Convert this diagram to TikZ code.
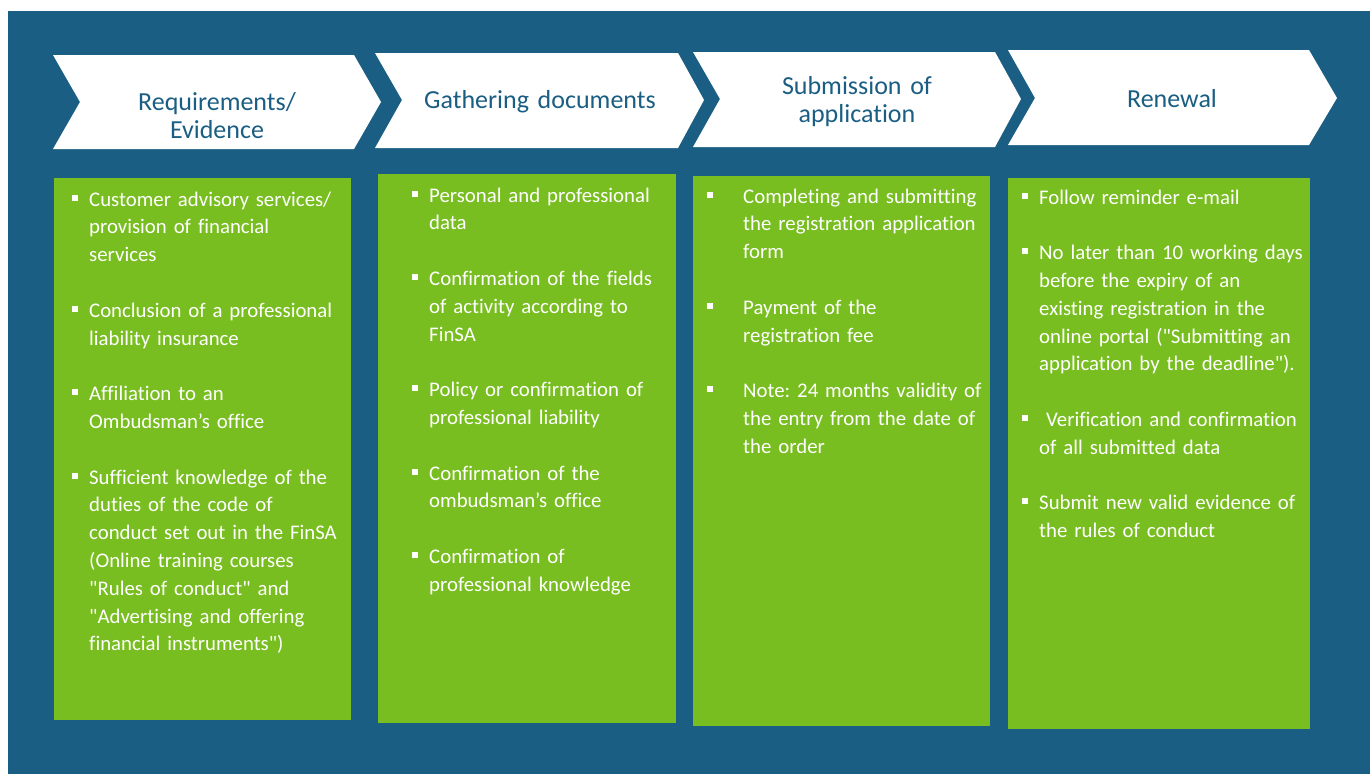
\documentclass[tikz,border=0pt]{standalone}
\usepackage{fontspec}
\setmainfont{Carlito}[Ligatures=NoCommon]
\usepackage{tikz}
\usetikzlibrary{positioning}
\definecolor{finblue}{HTML}{1B5E83}
\definecolor{fingreen}{HTML}{78BE20}

\newlength{\bulhang}
\setlength{\bulhang}{17pt}
\newcommand{\bul}{\hangindent=\bulhang\hangafter=1\noindent\makebox[\bulhang][l]{\rule[5.5pt]{6pt}{6pt}}}
\newcommand{\itemgap}{\par\vspace{27.8pt}}
\newcommand{\dq}{\textquotedbl}

\tikzset{
  greenbox/.style={fill=fingreen,draw=none,anchor=north west,inner sep=0pt},
  listtext/.style={text=white,anchor=base west,inner sep=0pt,text width=300pt,align=left,
                   font=\fontsize{20.8}{27.8}\selectfont\frenchspacing},
  title/.style={text=finblue,anchor=base,inner sep=0pt,text width=280pt,align=center,
                font=\fontsize{26}{28.5}\selectfont}
}

\begin{document}
\begin{tikzpicture}[x=1pt,y=-1pt]
  \useasboundingbox (0,0) rectangle (1370,774);
  \fill[white] (0,0) rectangle (1370,774);
  \fill[finblue] (8,11) rectangle (1370,774);

  % chevrons
  \fill[white] (53,55)--(354,55)--(381,102)--(354,149)--(53,149)--(80,102)--cycle;
  \fill[white] (375,53)--(678,53)--(704,100)--(678,148)--(375,148)--(402,100)--cycle;
  \fill[white] (693,52)--(995,52)--(1021,99)--(995,147)--(693,147)--(720,99)--cycle;
  \fill[white] (1008,50)--(1309,50)--(1337,98)--(1309,145)--(1008,145)--(1035,98)--cycle;

  \node[title] (head1) at (217,110) {Requirements/\\Evidence};
  \node[title] (head2) at (540,108) {Gathering documents};
  \node[title] (head3) at (857,94) {Submission of\\application};
  \node[title] (head4) at (1172,107) {Renewal};

  % green boxes
  \node[greenbox,minimum width=297pt,minimum height=542pt] (box1) at (54,178) {};
  \node[greenbox,minimum width=298pt,minimum height=549pt] (box2) at (378,174) {};
  \node[greenbox,minimum width=297pt,minimum height=550pt] (box3) at (693,176) {};
  \node[greenbox,minimum width=302pt,minimum height=551pt] (box4) at (1008,178) {};

  \node[listtext] (list1) at ([xshift=18pt,yshift=-28pt]box1.north west) {%
    \bul Customer advisory services/\newline provision of financial\newline services
    \itemgap
    \bul Conclusion of a professional\newline liability insurance
    \itemgap
    \bul Affiliation to an\newline Ombudsman’s office
    \itemgap
    \bul Sufficient knowledge of the\newline duties of the code of\newline conduct set out in the FinSA\newline
      (Online training courses\newline \dq Rules of conduct\dq{} and\newline \dq Advertising and offering\newline financial instruments\dq)\par};

  \node[listtext] (list2) at ([xshift=34pt,yshift=-28pt]box2.north west) {%
    \bul Personal and professional\newline data
    \itemgap
    \bul Confirmation of the fields\newline of activity according to\newline FinSA
    \itemgap
    \bul Policy or confirmation of\newline professional liability
    \itemgap
    \bul Confirmation of the\newline ombudsman’s office
    \itemgap
    \bul Confirmation of\newline professional knowledge\par};

  \node[listtext] (list3) at ([xshift=14pt,yshift=-27pt]box3.north west) {%
    \setlength{\bulhang}{36pt}%
    \bul Completing and submitting\newline the registration application\newline form
    \itemgap
    \bul Payment of the\newline registration fee
    \itemgap
    \bul Note: 24 months validity of\newline the entry from the date of\newline the order\par};

  \node[listtext] (list4) at ([xshift=14pt,yshift=-26pt]box4.north west) {%
    \bul Follow reminder e-mail
    \itemgap
    \bul No later than 10 working days\newline before the expiry of an\newline existing registration in the\newline
      online portal (\dq Submitting an\newline application by the deadline\dq).
    \itemgap
    \bul\ Verification and confirmation\newline of all submitted data
    \itemgap
    \bul Submit new valid evidence of\newline the rules of conduct\par};
\end{tikzpicture}
\end{document}
